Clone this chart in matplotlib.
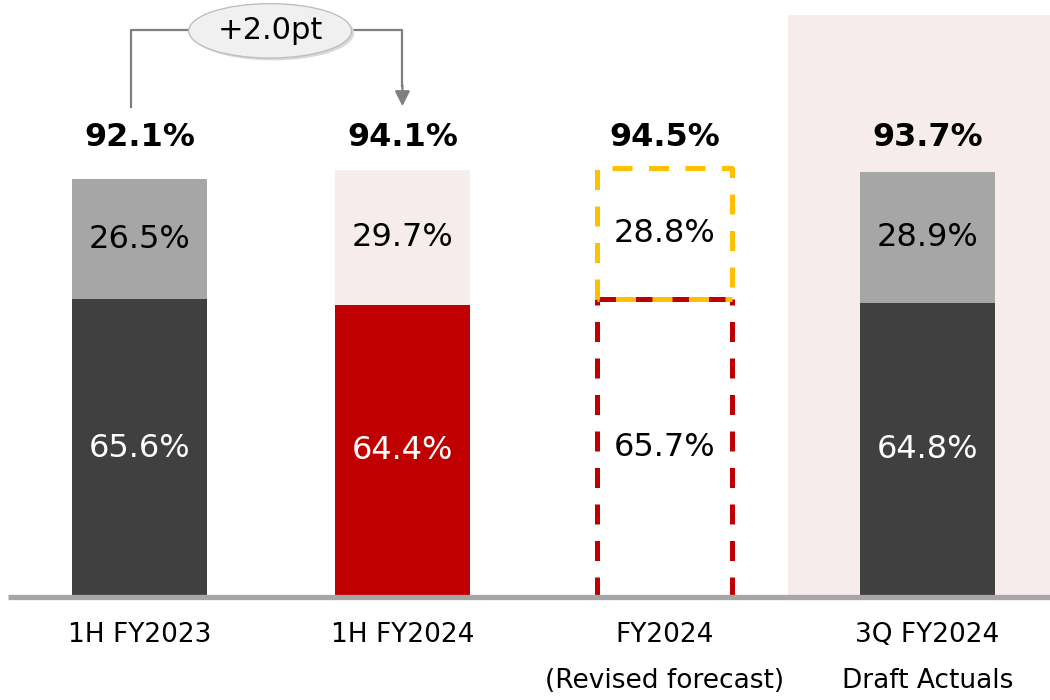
import matplotlib
matplotlib.use("Agg")
import matplotlib.pyplot as plt
from matplotlib.patches import Rectangle, Ellipse

plt.rcParams['font.family'] = ['DejaVu Sans']

# Data
categories = ["1H FY2023", "1H FY2024", "FY2024\n(Revised forecast)", "3Q FY2024\nDraft Actuals"]
bottom_vals = [65.6, 64.4, 65.7, 64.8]
top_vals = [26.5, 29.7, 28.8, 28.9]
totals = [92.1, 94.1, 94.5, 93.7]
change_label = "+2.0pt"

# Styling
DARK = "#404040"
GRAY = "#A6A6A6"
RED = "#C00000"
PINK = "#F6ECEC"
YELLOW = "#FFC000"

bottom_colors = [DARK, RED, None, DARK]
top_colors = [GRAY, PINK, None, GRAY]
bottom_text = ["white", "white", "black", "white"]

DASH = (0, (4, 3.3))
DASH_SHIFT = (3.6, (4, 3.3))

fig = plt.figure(figsize=(10.5, 7), dpi=100)
ax = fig.add_axes([0, 0, 1, 1])
ax.set_xlim(-0.533, 3.467)
ax.set_ylim(-22.7, 131.5)
ax.axis("off")

width = 0.514
x = list(range(len(categories)))

# Highlight panel behind the latest actuals
ax.add_patch(Rectangle((x[3] - 0.531, 0), 1.062, 128.2, facecolor=PINK,
                       edgecolor="none", zorder=0))

for i in x:
    b, t = bottom_vals[i], top_vals[i]
    if bottom_colors[i] is not None:
        ax.bar(i, b, width=width, color=bottom_colors[i], zorder=2)
        ax.bar(i, t, width=width, bottom=b, color=top_colors[i], zorder=2)
    else:
        # Forecast drawn as dashed outlines
        for xe in (i - width / 2, i + width / 2):
            ax.plot([xe, xe], [0, b], color=RED, lw=3.6, linestyle=DASH, zorder=3)
        ax.plot([i - width / 2, i + width / 2], [b, b], color=RED, lw=3.6,
                linestyle=DASH, zorder=3)
        ax.plot([i - width / 2, i + width / 2], [b, b], color=YELLOW, lw=3.6,
                linestyle=DASH_SHIFT, zorder=4)
        ax.plot([i - width / 2, i - width / 2, i + width / 2, i + width / 2],
                [b, b + t, b + t, b], color=YELLOW, lw=3.6,
                linestyle=DASH, zorder=4)
    ax.text(i, b / 2, f"{b:.1f}%", ha="center", va="center", fontsize=23,
            color=bottom_text[i], zorder=5)
    ax.text(i, b + t / 2, f"{t:.1f}%", ha="center", va="center", fontsize=23,
            color="black", zorder=5)
    ax.text(i, 101.3, f"{totals[i]:.1f}%", ha="center", va="center",
            fontsize=23, fontweight="bold", color="black", zorder=5)
    ax.text(i, -5.6, categories[i], ha="center", va="top", fontsize=19,
            linespacing=2.0, color="black")

# Baseline
ax.plot([-0.503, 3.467], [0, 0], color=GRAY, lw=3.8, zorder=6,
        solid_capstyle="butt")

# Change bracket between the two half-year results
ly_bot, ly_top = totals[0] + 15.8, 124.9
line_c = "#7F7F7F"
ax.plot([x[0] - 0.034, x[0] - 0.034, x[1], x[1]],
        [ly_bot, ly_top, ly_top, totals[1] + 18.5], color=line_c, lw=1.6, zorder=6)
ax.annotate("", xy=(x[1], totals[1] + 14.0), xytext=(x[1], totals[1] + 18.6),
            arrowprops=dict(arrowstyle="-|>,head_width=0.45,head_length=0.9",
                            color=line_c, lw=1.6, shrinkA=0, shrinkB=0), zorder=6)
ex = (x[0] + x[1]) / 2 - 0.004
ax.add_patch(Ellipse((ex + 0.01, 124.2), 0.62, 12.0, facecolor="#D9D9D9",
                     edgecolor="none", zorder=6))
ax.add_patch(Ellipse((ex, 124.7), 0.62, 12.0, facecolor="#F0F0F0",
                     edgecolor="#BFBFBF", lw=1.0, zorder=7))
ax.text(ex, 124.7, change_label, ha="center", va="center", fontsize=22,
        color="black", zorder=8)

fig.savefig("out.png", dpi=100)
